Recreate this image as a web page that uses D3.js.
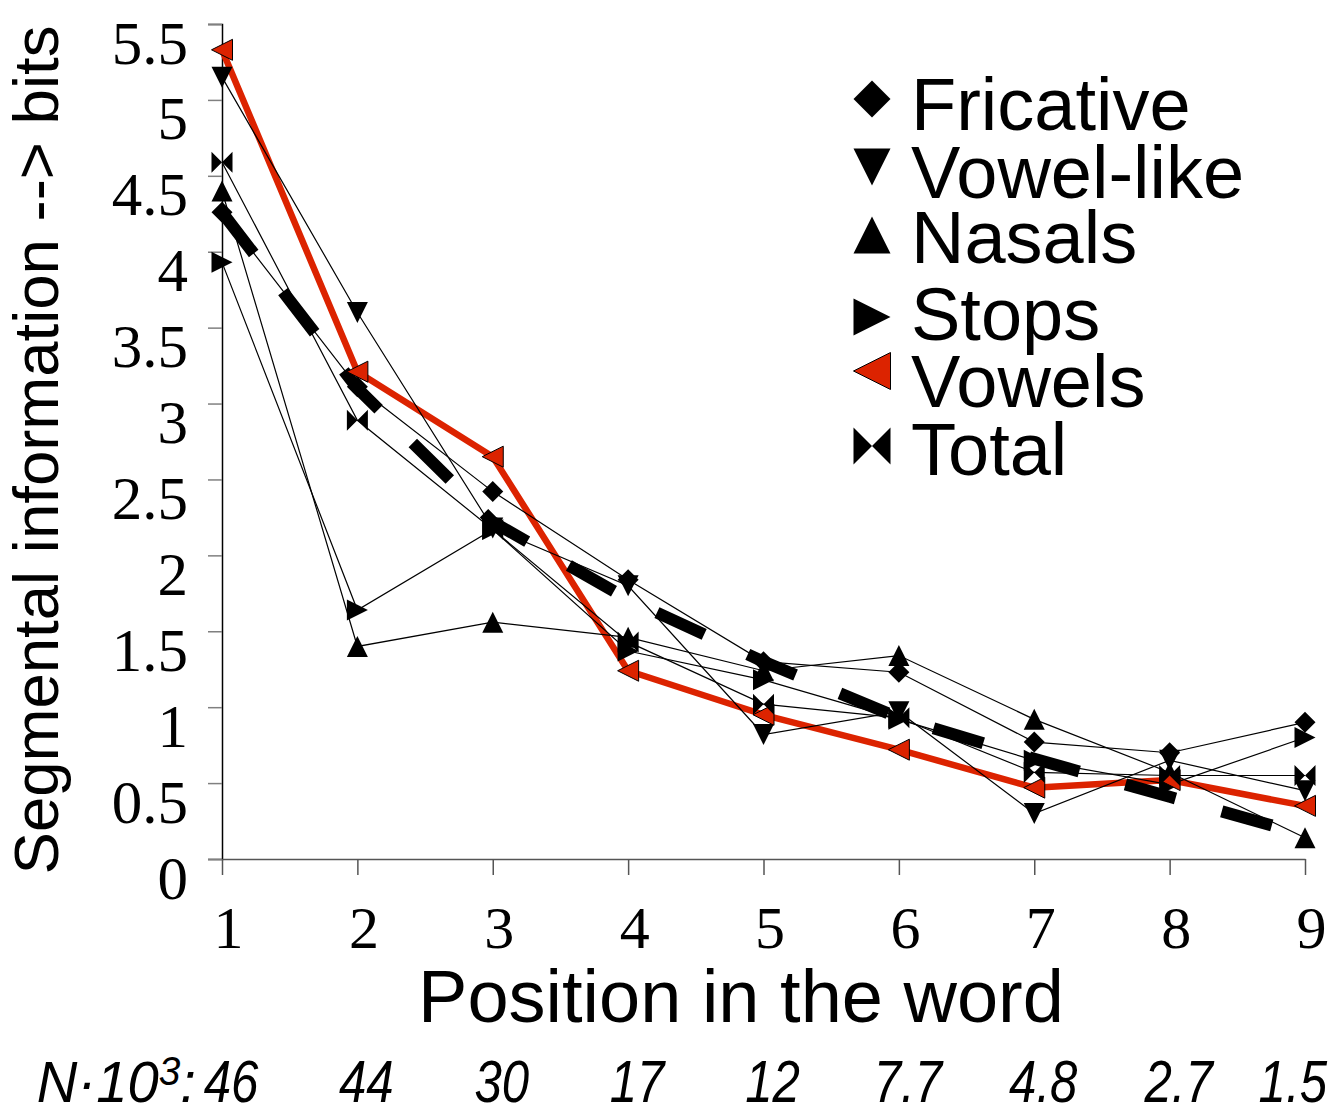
<!DOCTYPE html>
<html>
<head>
<script src="https://d3js.org/d3.v7.min.js"></script>
<style>
  body { margin: 0; background: #fff; }
  svg { display: block; }
</style>
</head>
<body>
<div id="chart"></div>
<script>
const positions = [1, 2, 3, 4, 5, 6, 7, 8, 9]
const nCounts = ["46", "44", "30", "17", "12", "7.7", "4.8", "2.7", "1.5"]
const yTicks = [0, 0.5, 1, 1.5, 2, 2.5, 3, 3.5, 4, 4.5, 5, 5.5]

const fricative = [4.26, 3.11, 2.42, 1.84, 1.30, 1.23, 0.77, 0.70, 0.90]
const vowelLike = [5.15, 3.60, 2.18, 1.80, 0.82, 0.97, 0.30, 0.65, 0.45]
const nasals = [4.40, 1.40, 1.56, 1.46, 1.24, 1.34, 0.92, 0.57, 0.14]
const stops = [3.93, 1.64, 2.17, 1.37, 1.18, 0.92, 0.65, 0.49, 0.80]
const vowels = [5.33, 3.21, 2.65, 1.24, 0.95, 0.72, 0.47, 0.52, 0.35]
const total = [4.59, 2.89, 2.17, 1.43, 1.02, 0.93, 0.57, 0.55, 0.55]
// thick dashed trend line (no legend entry)
const trend = [4.26, 3.10, 2.22, 1.71, 1.30, 0.93, 0.66, 0.41, 0.16]

const seriesNames = ["Fricative", "Vowel-like", "Nasals", "Stops", "Vowels", "Total"]

const width = 1342
const height = 1115
const margin = { top: 24, left: 222, right: 37, bottom: 256 }
const red = "#dc2300"

const svg = d3.select("#chart").append("svg")
    .attr("width", width)
    .attr("height", height)

const x = d3.scaleLinear()
    .domain([1, 9])
    .range([margin.left, width - margin.right])

const y = d3.scaleLinear()
    .domain([0, 5.5])
    .range([height - margin.bottom, margin.top])

// marker shapes, s = half size
const shapes = {
    diamond: s => `M0,${-s}L${s},0L0,${s}L${-s},0Z`,
    down: s => `M${-s},${-s}L${s},${-s}L0,${s}Z`,
    up: s => `M${-s},${s}L${s},${s}L0,${-s}Z`,
    right: s => `M${-s},${-s}L${s},0L${-s},${s}Z`,
    left: s => `M${s},${-s}L${-s},0L${s},${s}Z`,
    bowtie: s => `M${-s},${-s}L0,0L${-s},${s}ZM${s},${-s}L0,0L${s},${s}Z`
}

const series = [
    { name: seriesNames[0], values: fricative, shape: "diamond", color: "#000" },
    { name: seriesNames[1], values: vowelLike, shape: "down", color: "#000" },
    { name: seriesNames[2], values: nasals, shape: "up", color: "#000" },
    { name: seriesNames[3], values: stops, shape: "right", color: "#000" },
    { name: seriesNames[4], values: vowels, shape: "left", color: red },
    { name: seriesNames[5], values: total, shape: "bowtie", color: "#000" }
]

// axes
const yAxis = d3.axisLeft(y)
    .tickValues(yTicks)
    .tickSize(14)
    .tickPadding(20)
    .tickFormat(d => String(d))

const gy = svg.append("g")
    .attr("transform", "translate(" + margin.left + ",0)")
    .call(yAxis)
gy.select(".domain").attr("stroke", "#000").attr("stroke-width", 1.5)
gy.selectAll(".tick line").attr("stroke", "#808080").attr("stroke-width", 1.5)
gy.selectAll(".tick text")
    .attr("dy", "0.64em")
    .style("font-family", "'Liberation Serif', 'Times New Roman', serif")
    .style("font-size", "61px")
    .attr("fill", "#000")

const xAxis = d3.axisBottom(x)
    .tickValues(positions)
    .tickSize(16)
    .tickPadding(30)
    .tickSizeOuter(0)
    .tickFormat(d => String(d))

const gx = svg.append("g")
    .attr("transform", "translate(0," + (height - margin.bottom) + ")")
    .call(xAxis)
gx.select(".domain").attr("stroke", "#555").attr("stroke-width", 1.5)
gx.selectAll(".tick line").attr("stroke", "#555").attr("stroke-width", 1.5)
gx.selectAll(".tick text")
    .attr("dx", "0.1em")
    .style("font-family", "'Liberation Serif', 'Times New Roman', serif")
    .style("font-size", "60px")
    .attr("fill", "#000")

// lines
const line = d3.line()
    .x((d, i) => x(positions[i]))
    .y(d => y(d))

svg.append("path")
    .datum(vowels)
    .attr("d", line)
    .attr("fill", "none")
    .attr("stroke", red)
    .attr("stroke-width", 6.5)
    .attr("stroke-linejoin", "round")

series.filter(s => s.name !== "Vowels").forEach(s => {
    svg.append("path")
        .datum(s.values)
        .attr("d", line)
        .attr("fill", "none")
        .attr("stroke", "#000")
        .attr("stroke-width", 1.2)
})

svg.append("path")
    .datum(trend)
    .attr("d", line)
    .attr("fill", "none")
    .attr("stroke", "#000")
    .attr("stroke-width", 12)
    .attr("stroke-dasharray", "52,48")

// markers
series.forEach(s => {
    svg.append("g")
        .selectAll("path")
        .data(s.values)
        .enter()
        .append("path")
        .attr("transform", (d, i) => "translate(" + x(positions[i]) + "," + y(d) + ")")
        .attr("d", shapes[s.shape](10.5))
        .attr("fill", s.color)
        .attr("stroke", "#000")
        .attr("stroke-width", s.name === "Vowels" ? 1 : 0)
})

// legend
const legendY = [99, 167, 235, 317, 371, 446]
const legendBase = [130, 198, 263, 340, 407, 475]
const legend = svg.append("g")
series.forEach((s, i) => {
    legend.append("path")
        .attr("transform", "translate(872," + legendY[i] + ")")
        .attr("d", shapes[s.shape](18.5))
        .attr("fill", s.color)
        .attr("stroke", "#000")
        .attr("stroke-width", s.name === "Vowels" ? 1 : 0)
    legend.append("text")
        .attr("x", 911)
        .attr("y", legendBase[i])
        .style("font-family", "'Liberation Sans', Arial, sans-serif")
        .style("font-size", "74px")
        .text(s.name)
})

// axis titles
svg.append("text")
    .attr("transform", "translate(58,450) rotate(-90)")
    .attr("text-anchor", "middle")
    .style("font-family", "'Liberation Sans', Arial, sans-serif")
    .style("font-size", "63.5px")
    .text("Segmental information --> bits")

svg.append("text")
    .attr("x", 741)
    .attr("y", 1022)
    .attr("text-anchor", "middle")
    .style("font-family", "'Liberation Sans', Arial, sans-serif")
    .style("font-size", "74px")
    .text("Position in the word")

// N counts row
const nFont = "'Liberation Sans', Arial, sans-serif"
const nBase = 1102
const nRow = svg.append("g")
const nLabel = nRow.append("text")
    .attr("transform", "translate(196," + nBase + ") scale(0.97,1)")
    .attr("text-anchor", "end")
    .style("font-family", nFont)
    .style("font-style", "italic")
    .style("font-size", "58px")
nLabel.append("tspan").text("N·10")
nLabel.append("tspan").attr("dy", "-0.42em").style("font-size", "40px").text("3")
nLabel.append("tspan").attr("dy", "0.29em").text(":")

nCounts.forEach((c, i) => {
    const t = nRow.append("text")
        .attr("text-anchor", "middle")
        .style("font-family", nFont)
        .style("font-style", "italic")
        .style("font-size", "60px")
        .text(c)
    const w = t.node().getComputedTextLength() * 0.82
    const cx = Math.min(x(positions[i]) + 9, width - 15 - w / 2)
    t.attr("transform", "translate(" + cx + "," + nBase + ") scale(0.82,1)")
})
</script>
</body>
</html>
